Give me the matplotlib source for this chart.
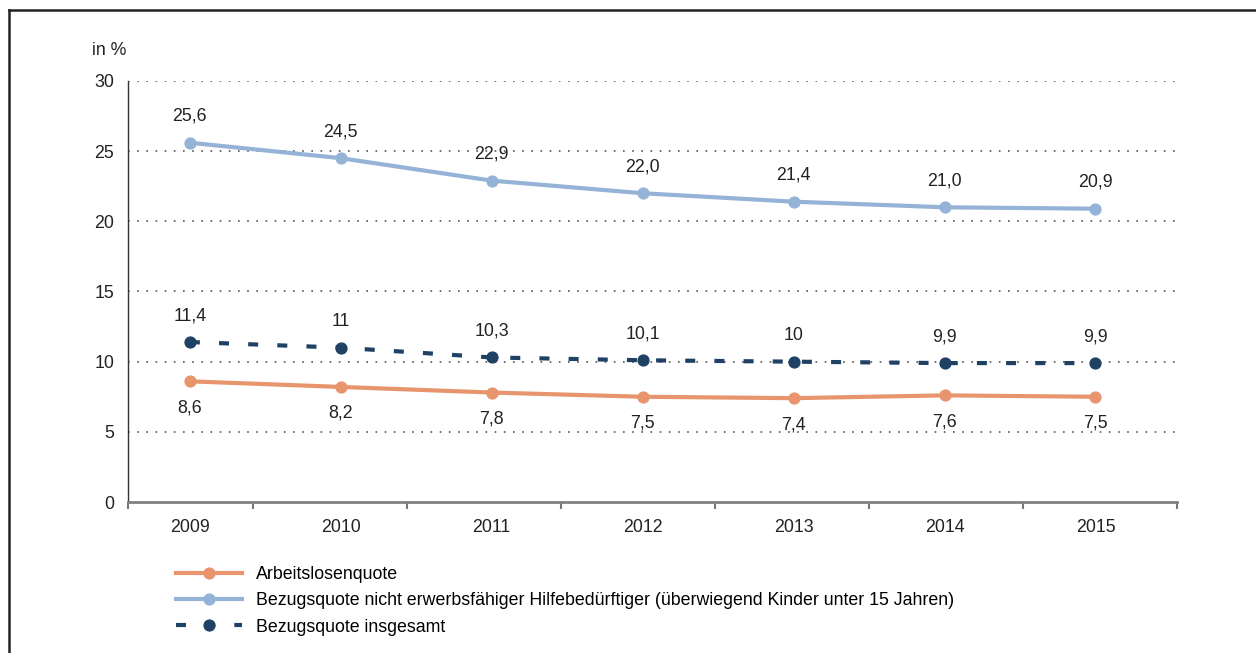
import numpy as np
import matplotlib
matplotlib.use("Agg")
import matplotlib.pyplot as plt
from matplotlib.lines import Line2D

# data
years = ["2009", "2010", "2011", "2012", "2013", "2014", "2015"]
arbeitslos = [8.6, 8.2, 7.8, 7.5, 7.4, 7.6, 7.5]
nicht_erwerbsf = [25.6, 24.5, 22.9, 22.0, 21.4, 21.0, 20.9]
insgesamt = [11.4, 11.0, 10.3, 10.1, 10.0, 9.9, 9.9]
insgesamt_labels = ["11,4", "11", "10,3", "10,1", "10", "9,9", "9,9"]
labels = ["Arbeitslosenquote",
          "Bezugsquote nicht erwerbsfähiger Hilfebedürftiger (überwiegend Kinder unter 15 Jahren)",
          "Bezugsquote insgesamt"]

plt.rcParams['font.family'] = ['Liberation Sans', 'DejaVu Sans']
FS = 12.8
ORANGE = "#E8956D"
LIGHTBLUE = "#95B3D7"
NAVY = "#1F4163"

fig = plt.figure(figsize=(12.56, 6.53), dpi=100)
ax = fig.add_axes([0.1019, 0.2312, 0.8352, 0.6448])
x = np.arange(len(years))

# grid
for yv in [5, 10, 15, 20, 25, 30]:
    ax.axhline(yv, color="#555555", lw=1.2, ls=(0, (1, 4.5)), zorder=0)

l1, = ax.plot(x, arbeitslos, color=ORANGE, lw=3, marker="o", markersize=7.8, label=labels[0], zorder=3)
l2, = ax.plot(x, nicht_erwerbsf, color=LIGHTBLUE, lw=3, marker="o", markersize=7.8, label=labels[1], zorder=3)
l3, = ax.plot(x, insgesamt, color=NAVY, lw=3, marker="o", markersize=7.8, dashes=(2.4, 4.6),
              label=labels[2], zorder=3)

# data labels
def fmt(v):
    return f"{v:.1f}".replace(".", ",")

for i in x:
    ax.annotate(fmt(nicht_erwerbsf[i]), (i, nicht_erwerbsf[i]), xytext=(0, 19), textcoords="offset points",
                ha="center", va="center", fontsize=FS, color="#222222")
    ax.annotate(insgesamt_labels[i], (i, insgesamt[i]), xytext=(0, 19), textcoords="offset points",
                ha="center", va="center", fontsize=FS, color="#222222")
    ax.annotate(fmt(arbeitslos[i]), (i, arbeitslos[i]), xytext=(0, -19), textcoords="offset points",
                ha="center", va="center", fontsize=FS, color="#222222")

# axes
ax.set_xlim(-0.41, 6.54)
ax.set_ylim(0, 30)
ax.set_yticks([0, 5, 10, 15, 20, 25, 30])
ax.tick_params(axis="y", length=0, labelsize=FS, pad=10, labelcolor="#222222")
ax.set_xticks(x)
ax.set_xticklabels(years)
ax.tick_params(axis="x", which="major", length=0, labelsize=FS, pad=12, labelcolor="#222222")
ax.set_xticks(list(np.linspace(0.42, 6.54, 7)) + [-0.41], minor=True)
ax.tick_params(axis="x", which="minor", length=5, width=1.5, color="#777777")
for s in ["top", "right"]:
    ax.spines[s].set_visible(False)
ax.spines["bottom"].set_color("#808080")
ax.spines["bottom"].set_linewidth(2)
ax.spines["left"].set_color("#333333")
ax.spines["left"].set_linewidth(1)

fig.text(0.0732, 0.923, "in %", fontsize=FS, color="#222222", va="center")

# legend
fig.legend(handles=[l1, l2, l3], loc="upper left", bbox_to_anchor=(0.140, 0.133),
           frameon=False, fontsize=FS, handlelength=3.7, handletextpad=0.82,
           labelspacing=0.52, borderaxespad=0, borderpad=0)

# frame lines
fig.add_artist(Line2D([9 / 1256, 1.0], [1 - 10 / 653, 1 - 10 / 653], color="#222222", lw=1.8,
                      transform=fig.transFigure))
fig.add_artist(Line2D([9 / 1256, 9 / 1256], [0.0, 1 - 10 / 653], color="#222222", lw=1.8,
                      transform=fig.transFigure))

fig.savefig("out.png", dpi=100)
